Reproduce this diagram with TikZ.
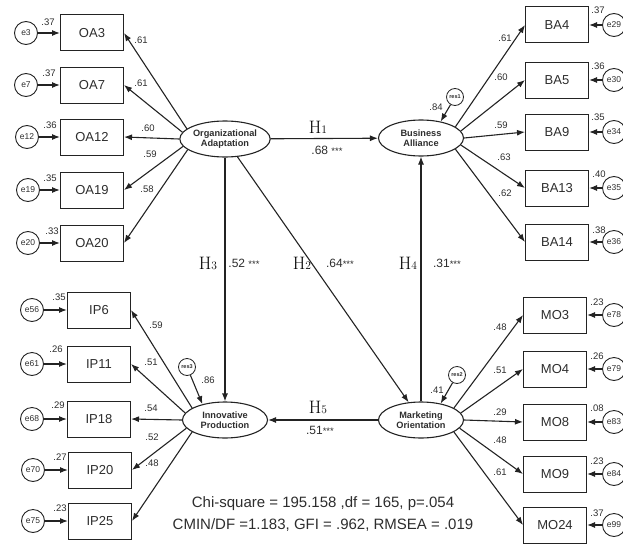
\documentclass[tikz,border=0pt]{standalone}
\usepackage{fontspec}
\setmainfont{Liberation Sans}
\newfontfamily\hypfont{Latin Modern Roman}
\usepackage{tikz}
\usetikzlibrary{arrows.meta, positioning, shapes.geometric}
\definecolor{semline}{RGB}{35,35,35}
\definecolor{semtext}{RGB}{45,45,45}
\newcommand{\hyp}[1]{{\hypfont\color{black}\fontsize{18}{18}\selectfont H\fontsize{11.5}{11.5}\selectfont #1}}
\newcommand{\stars}{{\fontsize{9.5}{9.5}\selectfont ***}}

\begin{document}
\begin{tikzpicture}[x=1pt, y=-1pt,
  every node/.style={text=semtext},
  latent/.style={ellipse, draw=semline, line width=1.1pt, minimum width=85,
                 minimum height=36, inner sep=0pt, align=center,
                 font=\bfseries\fontsize{9.2}{10.5}\selectfont},
  item/.style={rectangle, draw=semline, line width=1pt, minimum width=63,
               minimum height=36, font=\fontsize{13}{14}\selectfont},
  err/.style={circle, draw=semline, line width=0.9pt, minimum size=23,
              inner sep=0pt, font=\fontsize{8.5}{9}\selectfont},
  res/.style={circle, draw=semline, line width=0.8pt, minimum size=17,
              inner sep=0pt, font=\bfseries\fontsize{5.5}{6}\selectfont},
  coef/.style={font=\fontsize{9.5}{10}\selectfont, inner sep=1pt},
  est/.style={font=\fontsize{12}{12}\selectfont, inner sep=1pt},
  link/.style={-{Latex[length=8pt, width=6pt]}, line width=1.1pt, draw=semline},
]
\clip (0,0) rectangle (623,543);

% ── Latent constructs ──
\node[latent] (oa) at (225,139) {Organizational\\Adaptation};
\node[latent] (ba) at (421,138) {Business\\Alliance};
\node[latent] (ip) at (225,420) {Innovative\\Production};
\node[latent] (mo) at (421,420) {Marketing\\Orientation};

% ── Structural paths ──
\draw[link] (oa) -- (ba);
\node[est] (h1) at (318,127) {\hyp{1}};
\node[est] (b1) at (327,150) {.68 \stars};
\draw[link] (oa) -- (mo);
\node[est] (h2) at (302,263) {\hyp{2}};
\node[est] (b2) at (340,263) {.64\stars};
\draw[link] (oa) -- (ip);
\node[est] (h3) at (208,263) {\hyp{3}};
\node[est] (b3) at (244,263) {.52 \stars};
\draw[link] (mo) -- (ba);
\node[est] (h4) at (408,263) {\hyp{4}};
\node[est] (b4) at (447,263) {.31\stars};
\draw[link] (mo) -- (ip);
\node[est] (h5) at (318,407) {\hyp{5}};
\node[est] (b5) at (320,430) {.51\stars};

% ── Residuals ──
\node[res] (res1) at (455,97) {res1};
\node[coef] (r1) at (436,107) {.84};
\draw[link] (res1) -- (ba.40);
\node[res] (res2) at (457,375) {res2};
\node[coef] (r2) at (437,390) {.41};
\draw[link] (res2) -- (mo.40);
\node[res] (res3) at (187,367) {res3};
\node[coef] (r3) at (208,380) {.86};
\draw[link] (res3) -- (ip.145);

% ── Left top: Organizational Adaptation items ──
\node[item] (oa3)  at (92,33)  {OA3};
\node[item] (oa7)  at (92,85)  {OA7};
\node[item] (oa12) at (92,137) {OA12};
\node[item] (oa19) at (92,190) {OA19};
\node[item] (oa20) at (92,243) {OA20};
\node[err] (e3)  at (26,33)  {e3};  \draw[link] (e3)--(oa3);
\node[err] (e7)  at (26,85)  {e7};  \draw[link] (e7)--(oa7);
\node[err] (e12) at (27,137) {e12}; \draw[link] (e12)--(oa12);
\node[err] (e19) at (28,190) {e19}; \draw[link] (e19)--(oa19);
\node[err] (e20) at (28,243) {e20}; \draw[link] (e20)--(oa20);
\node[coef] at (48,22) {.37};  \node[coef] at (49,73) {.37};
\node[coef] at (50,125) {.36}; \node[coef] at (50,178) {.35};
\node[coef] at (52,231) {.33};
\draw[link] (oa.165)--(oa3.east);  \node[coef] at (141,40)  {.61};
\draw[link] (oa.171)--(oa7.east);  \node[coef] at (141,83)  {.61};
\draw[link] (oa.west)--(oa12.east); \node[coef] at (148,128) {.60};
\draw[link] (oa.190)--(oa19.east); \node[coef] at (150,154) {.59};
\draw[link] (oa.196)--(oa20.east); \node[coef] at (147,189) {.58};

% ── Right top: Business Alliance items ──
\node[item] (ba4)  at (557,25)  {BA4};
\node[item] (ba5)  at (557,80)  {BA5};
\node[item] (ba9)  at (557,132) {BA9};
\node[item] (ba13) at (557,188) {BA13};
\node[item] (ba14) at (557,242) {BA14};
\node[err] (e29) at (614,25)  {e29}; \draw[link] (e29)--(ba4);
\node[err] (e30) at (614,80)  {e30}; \draw[link] (e30)--(ba5);
\node[err] (e34) at (614,132) {e34}; \draw[link] (e34)--(ba9);
\node[err] (e35) at (614,188) {e35}; \draw[link] (e35)--(ba13);
\node[err] (e36) at (614,242) {e36}; \draw[link] (e36)--(ba14);
\node[coef] at (598,10) {.37};  \node[coef] at (598,66) {.36};
\node[coef] at (598,117) {.35}; \node[coef] at (599,174) {.40};
\node[coef] at (599,230) {.38};
\draw[link] (ba.18)--(ba4.west);   \node[coef] at (505,38)  {.61};
\draw[link] (ba.10)--(ba5.west);   \node[coef] at (501,77)  {.60};
\draw[link] (ba.east)--(ba9.west); \node[coef] at (501,125) {.59};
\draw[link] (ba.-10)--(ba13.west); \node[coef] at (504,157) {.63};
\draw[link] (ba.-18)--(ba14.west); \node[coef] at (505,193) {.62};

% ── Left bottom: Innovative Production items ──
\node[item] (ip6)  at (99,310) {IP6};
\node[item] (ip11) at (99,364) {IP11};
\node[item] (ip18) at (99,419) {IP18};
\node[item] (ip20) at (100,470) {IP20};
\node[item] (ip25) at (100,521) {IP25};
\node[err] (e56) at (32,310) {e56}; \draw[link] (e56)--(ip6);
\node[err] (e61) at (32,364) {e61}; \draw[link] (e61)--(ip11);
\node[err] (e68) at (32,419) {e68}; \draw[link] (e68)--(ip18);
\node[err] (e70) at (33,470) {e70}; \draw[link] (e70)--(ip20);
\node[err] (e75) at (33,521) {e75}; \draw[link] (e75)--(ip25);
\node[coef] at (59,297) {.35}; \node[coef] at (56,349) {.26};
\node[coef] at (58,405) {.29}; \node[coef] at (60,457) {.27};
\node[coef] at (60,508) {.23};
\draw[link] (ip.160)--(ip6.east);  \node[coef] at (156,325) {.59};
\draw[link] (ip.170)--(ip11.east); \node[coef] at (151,362) {.51};
\draw[link] (ip.west)--(ip18.east); \node[coef] at (151,408) {.54};
\draw[link] (ip.192)--(ip20.east); \node[coef] at (152,437) {.52};
\draw[link] (ip.200)--(ip25.east); \node[coef] at (152,463) {.48};

% ── Right bottom: Marketing Orientation items ──
\node[item] (mo3)  at (555,315) {MO3};
\node[item] (mo4)  at (555,369) {MO4};
\node[item] (mo8)  at (555,422) {MO8};
\node[item] (mo9)  at (555,474) {MO9};
\node[item] (mo24) at (555,525) {MO24};
\node[err] (e78) at (614,315) {e78}; \draw[link] (e78)--(mo3);
\node[err] (e79) at (614,369) {e79}; \draw[link] (e79)--(mo4);
\node[err] (e83) at (614,422) {e83}; \draw[link] (e83)--(mo8);
\node[err] (e84) at (614,474) {e84}; \draw[link] (e84)--(mo9);
\node[err] (e99) at (614,525) {e99}; \draw[link] (e99)--(mo24);
\node[coef] at (597,302) {.23}; \node[coef] at (597,356) {.26};
\node[coef] at (597,408) {.08}; \node[coef] at (597,461) {.23};
\node[coef] at (597,513) {.37};
\draw[link] (mo.20)--(mo3.west);   \node[coef] at (500,327) {.48};
\draw[link] (mo.10)--(mo4.west);   \node[coef] at (500,370) {.51};
\draw[link] (mo.east)--(mo8.west); \node[coef] at (500,412) {.29};
\draw[link] (mo.-12)--(mo9.west);  \node[coef] at (500,440) {.48};
\draw[link] (mo.-20)--(mo24.west); \node[coef] at (500,472) {.61};

% ── Fit statistics ──
\node[align=center, font=\fontsize{15}{22}\selectfont] (fitstats) at (323,514)
  {Chi-square = 195.158 ,df = 165, p=.054\\CMIN/DF =1.183, GFI = .962, RMSEA = .019};

\end{tikzpicture}
\end{document}
